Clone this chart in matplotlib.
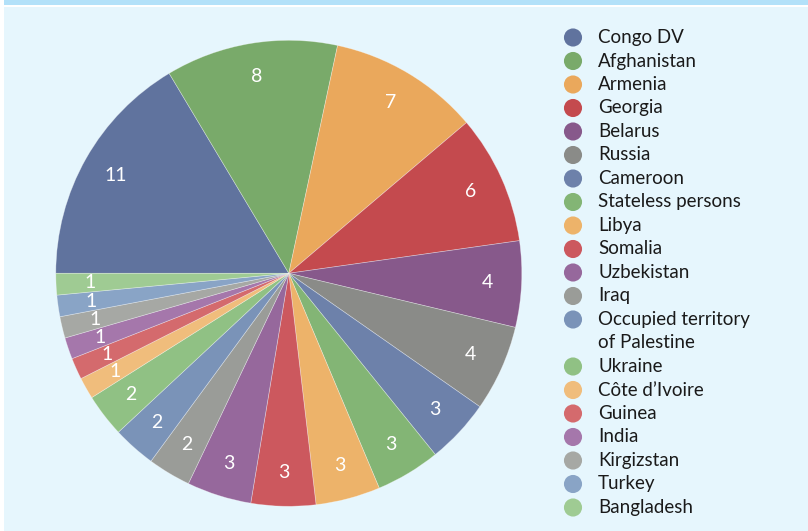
import matplotlib.pyplot as plt
from matplotlib.patches import Rectangle

# data
countries = ["Congo DV", "Afghanistan", "Armenia", "Georgia", "Belarus", "Russia",
             "Cameroon", "Stateless persons", "Libya", "Somalia", "Uzbekistan", "Iraq",
             "Occupied territory\nof Palestine", "Ukraine", "Côte d’Ivoire", "Guinea",
             "India", "Kirgizstan", "Turkey", "Bangladesh"]
values = [11, 8, 7, 6, 4, 4, 3, 3, 3, 3, 3, 2, 2, 2, 1, 1, 1, 1, 1, 1]
colors = ["#60739e", "#79aa6a", "#eaa85c", "#c44a4e", "#87598b", "#8a8b88",
          "#6d81aa", "#83b575", "#edb36a", "#cc585e", "#96689c", "#9a9c98",
          "#7a93b8", "#90c184", "#f0bd7c", "#d46a6d", "#a577ab", "#a6a8a4",
          "#89a4c6", "#9fcb93"]

W, H = 808, 531
total = sum(values)

fig = plt.figure(figsize=(W / 100, H / 100), dpi=100, facecolor="white")

# background panel + top strip
fig.patches.append(Rectangle((4 / W, 0), 1, 1 - 7 / H, transform=fig.transFigure,
                             facecolor="#e6f6fd", edgecolor="none", zorder=-5))
fig.patches.append(Rectangle((4 / W, 1 - 5 / H), 1, 5 / H, transform=fig.transFigure,
                             facecolor="#b3e1f9", edgecolor="none", zorder=-5))

# pie
cx, cy, r = 288.8, 273.3, 233
ax = fig.add_axes([(cx - r) / W, (H - cy - r) / H, 2 * r / W, 2 * r / H])
ax.set_facecolor("none")
wedges, texts, autotexts = ax.pie(
    values, colors=colors, startangle=180, counterclock=False, radius=1,
    autopct=lambda p: f"{round(p * total / 100)}", pctdistance=0.855,
    wedgeprops=dict(edgecolor=(1, 1, 1, 0.4), linewidth=0.5),
    textprops=dict(color="white", fontsize=14, family="Lato"))
ax.set_xlim(-1, 1)
ax.set_ylim(-1, 1)
ax.axis("off")

# legend
lg = fig.add_axes([0, 0, 1, 1])
lg.set_facecolor("none")
lg.set_xlim(0, W)
lg.set_ylim(H, 0)
lg.axis("off")
row = 0
for name, c in zip(countries, colors):
    y = 37.5 + row * 23.5
    lg.scatter(573, y, s=170, color=c, edgecolor="none")
    for i, line in enumerate(name.split("\n")):
        lg.text(598, y + i * 23.5, line, fontsize=13.5, family="Lato",
                color="#1a1a1a", va="center")
    row += 1 + name.count("\n")

fig.savefig("out.png", dpi=100, facecolor=fig.get_facecolor())
